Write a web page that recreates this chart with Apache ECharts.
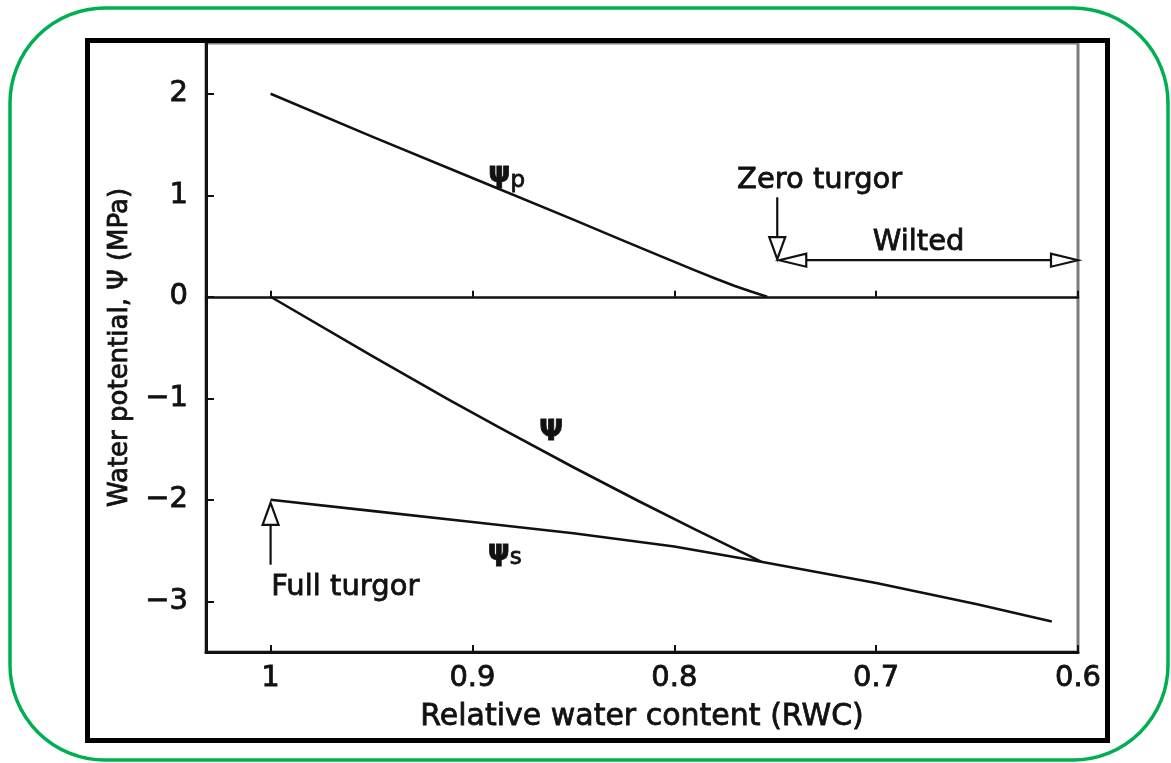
<!DOCTYPE html>
<html>
<head>
<meta charset="utf-8">
<script src="https://cdn.jsdelivr.net/npm/echarts@6/dist/echarts.min.js"></script>
<style>
html,body{margin:0;padding:0;background:#fff;}
#chart{width:1171px;height:763px;}
</style>
</head>
<body>
<div id="chart"></div>
<script>
// ---- data ----
const xTicks = [1, 0.9, 0.8, 0.7, 0.6];
const yTicks = [2, 1, 0, -1, -2, -3];

const psiPX = [1, 0.95, 0.9, 0.85, 0.825, 0.805, 0.79, 0.78, 0.77, 0.762, 0.754];
const psiPY = [2, 1.58, 1.17, 0.76, 0.55, 0.385, 0.262, 0.182, 0.106, 0.052, 0];

const psiX = [1, 0.95, 0.912, 0.887, 0.85, 0.818, 0.79, 0.757];
const psiY = [0, -0.58, -1.01, -1.285, -1.68, -2.01, -2.29, -2.61];

const psiSX = [1, 0.95, 0.9, 0.85, 0.8, 0.757, 0.7, 0.65, 0.613];
const psiSY = [-2, -2.11, -2.22, -2.33, -2.46, -2.61, -2.82, -3.03, -3.2];

// arrows: [x1, y1, x2, y2, headAtStart, headAtEnd]
const arrows = [
  [0.749, 0.98, 0.749, 0.37, 0, 1],   // zero turgor
  [0.748, 0.36, 0.6, 0.36, 1, 1],     // wilted
  [1, -2.64, 1, -2.03, 0, 1]          // full turgor
];

const annX = [0.728, 0.679, 0.963, 0.883, 0.861, 0.884];
const annY = [1.15, 0.53, -2.86, 1.2, -1.34, -2.52];
const annText = ['Zero turgor', 'Wilted', 'Full turgor', '{g|ψ}{s|p}', '{G|Ψ}', '{g|ψ}{s|s}'];

// ---- chart ----
const FONT = 'DejaVu Sans';
const INK = '#111';
const zip = (a, b) => a.map((v, i) => [v, b[i]]);
const chart = echarts.init(document.getElementById('chart'), null, {renderer: 'canvas'});

const lineSeries = (x, y) => ({
  type: 'line', xAxisIndex: 0, yAxisIndex: 0, data: zip(x, y),
  showSymbol: false, symbol: 'none', smooth: false, silent: true,
  lineStyle: {color: INK, width: 2.6, join: 'round'}, z: 5
});

function arrowItem(params, api) {
  const p1 = api.coord([api.value(0), api.value(1)]);
  const p2 = api.coord([api.value(2), api.value(3)]);
  const hs = api.value(4), he = api.value(5);
  const horiz = Math.abs(p2[1] - p1[1]) < 1;
  const L = horiz ? 27 : 22, W = horiz ? 13 : 16;
  const dx = p2[0] - p1[0], dy = p2[1] - p1[1];
  const len = Math.sqrt(dx * dx + dy * dy);
  const ux = dx / len, uy = dy / len;
  const nx = -uy, ny = ux;
  const a = hs ? [p1[0] + ux * L, p1[1] + uy * L] : p1;
  const b = he ? [p2[0] - ux * L, p2[1] - uy * L] : p2;
  const children = [{
    type: 'line', shape: {x1: a[0], y1: a[1], x2: b[0], y2: b[1]},
    style: {stroke: INK, lineWidth: 2.2}
  }];
  const head = (tip, dir) => {
    const bx = tip[0] - dir * ux * L, by = tip[1] - dir * uy * L;
    return {
      type: 'polygon',
      shape: {points: [tip, [bx + nx * W / 2, by + ny * W / 2], [bx - nx * W / 2, by - ny * W / 2]]},
      style: {fill: '#fff', stroke: INK, lineWidth: 2.2}
    };
  };
  if (he) children.push(head(p2, 1));
  if (hs) children.push(head(p1, -1));
  return {type: 'group', children};
}

const heavy = {textBorderColor: INK, textBorderWidth: 0.8};

const option = {
  backgroundColor: '#fff',
  animation: false,
  graphic: [
    {type: 'rect', shape: {x: 10, y: 8, width: 1158, height: 752, r: 95},
     style: {fill: 'none', stroke: '#00b050', lineWidth: 3.5}, z: 0},
    {type: 'rect', shape: {x: 87.5, y: 40.5, width: 1020, height: 700},
     style: {fill: 'none', stroke: '#000', lineWidth: 5}, z: 0}
  ],
  grid: {left: 206, right: 93, top: 43, bottom: 111, show: true,
         borderColor: '#7d7d7d', borderWidth: 3, backgroundColor: 'transparent'},
  xAxis: [{
    type: 'value', min: 0.6, max: 1.032, inverse: true, position: 'bottom',
    name: 'Relative water content (RWC)', nameLocation: 'middle', nameGap: 50,
    nameTextStyle: Object.assign({fontFamily: FONT, fontSize: 30, color: INK}, heavy),
    axisLine: {onZero: false, lineStyle: {color: INK, width: 3}},
    axisTick: {inside: true, length: 7, customValues: xTicks, lineStyle: {color: INK, width: 2}},
    axisLabel: Object.assign({customValues: xTicks, margin: 12, fontFamily: FONT, fontSize: 29, color: INK,
      formatter: v => (Math.abs(v - 1) < 1e-9 ? '1' : v.toFixed(1))}, heavy),
    splitLine: {show: false}
  }, {
    type: 'value', min: 0.6, max: 1.032, inverse: true, position: 'bottom',
    axisLine: {onZero: true, lineStyle: {color: INK, width: 2.5}},
    axisTick: {inside: true, length: 6, customValues: xTicks, lineStyle: {color: INK, width: 2}},
    axisLabel: {show: false},
    splitLine: {show: false}
  }],
  yAxis: {
    type: 'value', min: -3.5, max: 2.5,
    name: 'Water potential, Ψ (MPa)', nameLocation: 'middle', nameGap: 68,
    nameTextStyle: Object.assign({fontFamily: FONT, fontSize: 26, color: INK}, heavy),
    axisLine: {onZero: false, lineStyle: {color: INK, width: 3}},
    axisTick: {inside: true, length: 8, customValues: yTicks, lineStyle: {color: INK, width: 2}},
    axisLabel: Object.assign({customValues: yTicks, margin: 18, fontFamily: FONT, fontSize: 29, color: INK,
      formatter: v => (v < 0 ? '\u2212' + Math.abs(v) : String(v))}, heavy),
    splitLine: {show: false}
  },
  series: [
    lineSeries(psiPX, psiPY),
    lineSeries(psiX, psiY),
    lineSeries(psiSX, psiSY),
    {
      type: 'custom', xAxisIndex: 0, yAxisIndex: 0, renderItem: arrowItem,
      data: arrows, encode: {x: [0, 2], y: [1, 3]}, z: 6, silent: true
    },
    {
      type: 'scatter', xAxisIndex: 0, yAxisIndex: 0, symbolSize: 0, silent: true,
      itemStyle: {opacity: 1},
      data: annX.map((x, i) => ({value: [x, annY[i]], name: annText[i]})),
      label: Object.assign({
        show: true, position: 'inside', formatter: p => p.name,
        fontFamily: FONT, fontSize: 29, color: INK,
        rich: {
          g: {fontFamily: FONT, fontSize: 28, fontWeight: 'bold', color: INK},
          G: {fontFamily: FONT, fontSize: 28, fontWeight: 'bold', color: INK},
          s: {fontFamily: FONT, fontSize: 23, color: INK, verticalAlign: 'bottom', padding: [12, 0, 0, 0],
              textBorderColor: INK, textBorderWidth: 0.8}
        }
      }, heavy),
      z: 7
    }
  ]
};
chart.setOption(option);
</script>
</body>
</html>
